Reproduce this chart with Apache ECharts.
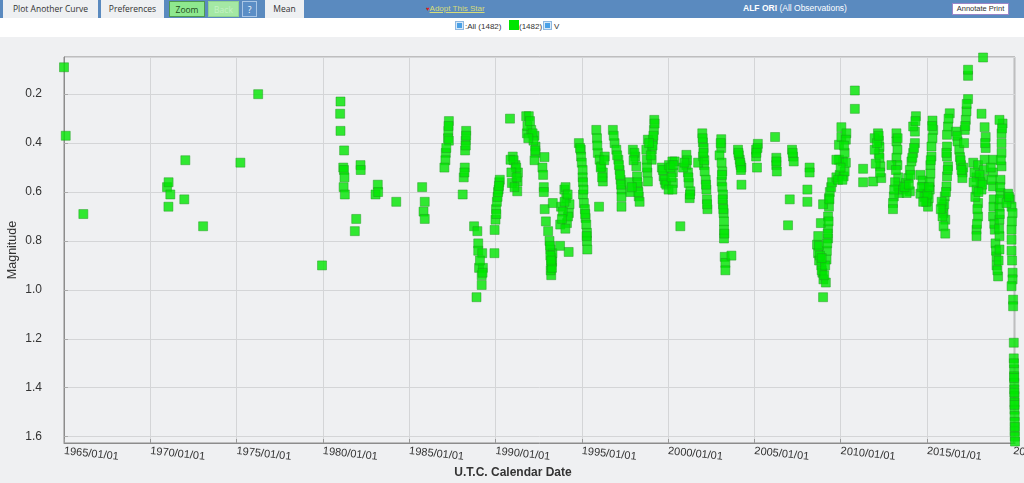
<!DOCTYPE html>
<html><head><meta charset="utf-8">
<script src="https://cdn.jsdelivr.net/npm/echarts@6/dist/echarts.min.js"></script>
<style>
html,body{margin:0;padding:0;width:1024px;height:483px;overflow:hidden;background:#eff0f2;font-family:'Liberation Sans',Arial,sans-serif;}
#bar{position:absolute;left:0;top:0;width:1024px;height:18px;background:#5a8abf;}
#row2{position:absolute;left:0;top:18px;width:1024px;height:19px;background:#ffffff;}
.tab{position:absolute;top:0;height:18px;line-height:18px;font-family:'Open Sans',sans-serif;font-size:8.5px;color:#333;background:#eef0f2;text-align:center;box-sizing:border-box;}
.btn{position:absolute;top:1px;height:16px;line-height:15px;font-family:'Open Sans',sans-serif;font-size:8.5px;text-align:center;box-sizing:border-box;}
#chart{position:absolute;left:0;top:37px;width:1024px;height:446px;}
.lg{position:absolute;top:22px;font-size:8px;color:#333;line-height:10px;}
.cb{position:absolute;top:21px;width:9px;height:9px;box-sizing:border-box;border:1px solid #8fb8e0;background:#4aa0e6;box-shadow:inset 0 0 0 1px #d6e8f8;}
</style></head>
<body>
<div id="bar"></div>
<div class="tab" style="left:3px;width:95px;">Plot Another Curve</div>
<div class="tab" style="left:101px;width:63px;">Preferences</div>
<div class="btn" style="left:169px;width:36px;background:#8ee88e;border:1px solid #4f9a4f;color:#1d4d1d;">Zoom</div>
<div class="btn" style="left:208px;width:31px;background:#a4e8a4;border:1px solid #90d490;color:#c4f2c4;">Back</div>
<div class="btn" style="left:242px;width:15px;background:#5b8ec6;border:1px solid #a9c6e6;color:#ffffff;">?</div>
<div class="tab" style="left:265px;width:39px;">Mean</div>
<div style="position:absolute;left:426px;top:4px;font-size:8px;line-height:10px;"><span style="color:#d62020;font-size:6px;">&#9829;</span><span style="color:#d8dc78;text-decoration:underline;">Adopt This Star</span></div>
<div style="position:absolute;left:700px;width:190px;top:3px;text-align:center;font-size:8.5px;line-height:11px;color:#ffffff;"><b>ALF ORI</b> (All Observations)</div>
<div style="position:absolute;left:952px;top:3px;width:57px;height:12px;line-height:10px;box-sizing:border-box;border:1px solid #9b86c8;background:#ffffff;font-size:7.5px;color:#333;text-align:center;">Annotate Print</div>
<div id="row2"></div>
<div class="cb" style="left:455px;"></div>
<div class="lg" style="left:465px;">:All (1482)</div>
<div style="position:absolute;left:509px;top:20px;width:10px;height:10px;background:#00e600;"></div>
<div class="lg" style="left:519px;">(1482)</div>
<div class="cb" style="left:543px;"></div>
<div class="lg" style="left:554px;">V</div>
<div id="chart"></div>
<script>
// Observations: [decimal year, V magnitude]
const obsEarly = [[1965.0,0.09],[1965.1,0.37],[1966.12,0.69],[1970.97,0.58],[1971.06,0.56],[1971.16,0.61],[1971.05,0.66],[1972.03,0.47],[1971.97,0.63],[1973.06,0.74],[1975.22,0.48],[1976.25,0.20],[1979.95,0.90]];
const obs1980s = [[1981.02,0.23],[1981.0,0.28],[1981.02,0.35],[1981.23,0.43],[1981.18,0.50],[1981.22,0.51],[1981.25,0.54],[1981.2,0.58],[1981.27,0.61],[1981.93,0.71],[1981.85,0.76],[1982.18,0.49],[1982.19,0.51],[1983.18,0.57],[1983.05,0.61],[1983.2,0.60],[1984.25,0.64],[1985.75,0.58],[1985.9,0.64],[1985.83,0.68],[1985.9,0.71],
[1987.3,0.31],[1987.27,0.35],[1987.25,0.38],[1987.3,0.39],[1987.12,0.44],[1987.1,0.47],[1987.04,0.50],[1987.28,0.33],[1987.15,0.42],
[1988.3,0.35],[1988.27,0.39],[1988.24,0.43],[1988.22,0.50],[1988.16,0.54],[1988.1,0.61],[1988.3,0.37],[1988.28,0.41],[1988.2,0.52],
[1988.76,0.74],[1988.95,0.76],[1989.0,0.81],[1989.0,0.84],[1989.23,0.85],[1989.05,0.91],[1989.27,0.91],[1989.2,0.94],[1989.2,0.98],[1988.9,1.03],[1989.1,0.88],[1989.25,0.93],[1989.94,0.85]];
const obs1990s = [[1989.95,0.755],[1990.0,0.713],[1990.03,0.67],[1990.08,0.64],[1990.12,0.62],[1990.18,0.59],[1990.22,0.56],[1990.25,0.55],[1990.05,0.69],[1990.15,0.60],[1990.2,0.575],[1990.84,0.30],
[1991.0,0.455],[1991.16,0.49],[1991.3,0.52],[1991.28,0.557],[1991.26,0.597],[1990.95,0.563],[1990.87,0.468],[1991.05,0.47],[1991.2,0.50],[1991.1,0.58],[1990.92,0.52],[1991.22,0.54],
[1991.78,0.29],[1991.93,0.29],[1991.82,0.36],[1992.07,0.346],[1992.26,0.37],[1992.32,0.414],[1992.32,0.44],[1992.26,0.47],[1991.85,0.33],[1992.0,0.31],[1992.15,0.36],[1992.2,0.39],[1992.3,0.43],[1991.9,0.38],
[1992.84,0.457],[1992.72,0.50],[1992.76,0.53],[1992.8,0.58],[1992.8,0.60],[1992.85,0.67],[1992.92,0.72],[1993.05,0.76],[1993.13,0.80],[1993.19,0.835],[1993.25,0.87],[1993.23,0.90],[1993.23,0.94],[1993.2,0.92],[1993.28,0.885],[1993.3,0.85],[1993.16,0.82],[1993.74,0.82],[1994.24,0.845],[1993.18,0.86],[1993.27,0.91],[1993.22,0.88],
[1993.99,0.59],[1994.1,0.625],[1994.29,0.65],[1994.25,0.686],[1994.14,0.727],[1993.75,0.733],[1993.8,0.66],[1993.32,0.645],[1994.06,0.58],[1994.2,0.70],[1994.0,0.64],[1993.9,0.68],[1994.18,0.61],[1994.05,0.75],[1993.85,0.71],
[1994.83,0.40],[1994.94,0.427],[1994.96,0.455],[1995.0,0.48],[1995.05,0.51],[1995.05,0.54],[1995.07,0.56],[1995.07,0.61],[1995.12,0.645],[1995.18,0.67],[1995.22,0.706],[1995.26,0.733],[1995.3,0.767],[1995.3,0.80],[1995.32,0.835],[1995.28,0.78],[1995.2,0.69],[1995.1,0.59],[1994.9,0.42],
[1995.84,0.346],[1995.88,0.38],[1995.93,0.44],[1996.03,0.468],[1996.13,0.495],[1996.22,0.52],[1996.22,0.557],[1996.0,0.66],[1996.33,0.455],[1995.9,0.41],[1996.1,0.50],[1996.3,0.47],[1996.18,0.54],
[1996.8,0.346],[1996.9,0.40],[1997.0,0.427],[1997.12,0.468],[1997.19,0.51],[1997.25,0.55],[1997.3,0.59],[1997.3,0.66],[1996.85,0.37],[1997.05,0.45],[1997.15,0.49],[1997.22,0.53],[1997.28,0.57],[1997.3,0.62],
[1997.96,0.427],[1998.1,0.455],[1998.16,0.495],[1998.2,0.536],[1998.25,0.577],[1998.3,0.618],[1998.35,0.64],[1997.82,0.60],[1997.76,0.56],[1998.05,0.44],[1998.22,0.56],[1998.28,0.60],[1997.9,0.58],[1998.0,0.47],
[1999.2,0.305],[1999.18,0.346],[1999.12,0.386],[1999.06,0.427],[1999.05,0.468],[1998.83,0.386],[1998.74,0.427],[1998.77,0.468],[1998.8,0.52],[1998.83,0.557],[1999.22,0.32],[1999.15,0.37],[1999.1,0.41],[1999.0,0.45],[1998.78,0.50],[1998.9,0.40],
[1999.64,0.50],[1999.74,0.536],[1999.84,0.563],[1999.7,0.51],[1999.8,0.55],[1999.9,0.57]];
const obs2000s = [[2000.03,0.59],[2000.05,0.49],[2000.25,0.475],[2000.38,0.475],[2000.28,0.52],[2000.28,0.563],[2000.25,0.59],[2000.15,0.50],[2000.2,0.54],[2000.3,0.49],[2000.71,0.74],
[2001.06,0.448],[2001.06,0.49],[2001.15,0.52],[2001.2,0.563],[2001.29,0.597],[2001.25,0.625],[2000.87,0.50],[2001.1,0.47],[2001.18,0.54],[2001.27,0.61],[2000.95,0.48],
[2001.98,0.36],[2002.02,0.397],[2002.06,0.42],[2002.02,0.455],[2002.08,0.49],[2002.12,0.516],[2002.18,0.55],[2002.22,0.59],[2002.25,0.63],[2002.28,0.67],[2001.74,0.48],[2002.0,0.38],[2002.1,0.47],[2002.2,0.57],[2002.26,0.65],[2002.05,0.44],
[2003.08,0.384],[2003.08,0.42],[2002.98,0.45],[2003.1,0.48],[2003.14,0.516],[2003.1,0.557],[2003.14,0.58],[2003.18,0.61],[2003.18,0.65],[2003.22,0.686],[2003.24,0.72],[2003.24,0.754],[2003.24,0.79],[2003.28,0.865],[2003.32,0.89],[2003.32,0.92],[2003.67,0.86],[2003.05,0.40],[2003.16,0.63],[2003.2,0.67],[2003.26,0.77],[2003.12,0.53],
[2004.05,0.427],[2004.1,0.45],[2004.15,0.468],[2004.2,0.49],[2004.25,0.50],[2004.25,0.57],[2004.08,0.44],[2004.18,0.48],[2004.22,0.51],
[2005.2,0.403],[2005.1,0.427],[2005.1,0.455],[2005.15,0.50],[2005.18,0.42],[2005.12,0.44],
[2006.2,0.375],[2006.27,0.46],[2006.27,0.49],[2006.3,0.516],[2006.28,0.475],[2006.95,0.736],
[2007.05,0.63],[2007.18,0.427],[2007.24,0.455],[2007.28,0.475],[2007.22,0.44],
[2008.2,0.50],[2008.2,0.52],[2008.07,0.59],[2008.07,0.64],
[2008.63,0.815],[2008.69,0.85],[2008.75,0.88],[2008.88,0.90],[2008.94,0.93],[2009.0,0.957],[2009.14,0.97],[2008.98,1.03],[2009.18,0.876],[2009.2,0.84],[2009.27,0.79],[2009.27,0.75],[2009.27,0.70],[2009.32,0.66],[2009.32,0.625],[2009.37,0.60],[2008.98,0.65],[2008.85,0.727],[2008.74,0.82],[2008.8,0.86],[2008.9,0.92],[2009.05,0.94],[2009.1,0.90],[2009.22,0.81],[2009.25,0.77],[2009.3,0.72],[2009.35,0.63],[2008.7,0.78],[2008.9,0.87],[2009.45,0.58],[2009.5,0.56]];
const obs2010s = [[2009.75,0.54],[2009.94,0.53],[2010.17,0.536],[2010.23,0.516],[2010.13,0.475],[2009.9,0.468],[2009.9,0.407],[2010.04,0.375],[2010.04,0.335],[2010.33,0.36],[2010.3,0.386],[2010.23,0.44],[2010.3,0.48],[2009.75,0.468],[2009.85,0.55],[2010.1,0.55],[2010.0,0.50],[2010.2,0.41],
[2010.82,0.185],[2010.82,0.26],[2011.3,0.505],[2011.3,0.56],[2011.88,0.557],
[2012.16,0.36],[2012.21,0.39],[2012.25,0.416],[2012.21,0.444],[2012.25,0.46],[2012.3,0.495],[2012.03,0.484],[2011.97,0.427],[2011.97,0.38],[2012.35,0.543],[2012.1,0.40],[2012.28,0.52],[2012.2,0.37],
[2013.23,0.36],[2013.23,0.393],[2013.29,0.427],[2013.23,0.46],[2013.29,0.49],[2013.33,0.54],[2013.33,0.577],[2013.39,0.604],[2013.08,0.618],[2013.03,0.645],[2013.03,0.67],[2012.94,0.49],[2013.2,0.51],[2013.15,0.56],[2013.1,0.59],[2013.3,0.38],
[2013.62,0.59],[2013.78,0.563],[2013.91,0.543],[2014.01,0.51],[2014.1,0.475],[2014.2,0.44],[2014.3,0.40],[2014.3,0.353],[2014.36,0.29],[2014.2,0.332],[2014.01,0.597],[2013.82,0.604],[2013.7,0.58],[2013.95,0.57],[2014.15,0.46],[2014.25,0.42],[2014.33,0.31],[2014.05,0.53],
[2014.62,0.53],[2014.74,0.553],[2014.82,0.58],[2014.92,0.607],[2015.0,0.638],[2015.06,0.66],[2014.62,0.607],[2015.32,0.308],[2015.36,0.346],[2015.32,0.38],[2015.26,0.414],[2015.26,0.455],[2015.2,0.49],[2015.2,0.525],[2015.16,0.56],[2015.16,0.59],[2015.1,0.625],[2014.7,0.58],[2014.85,0.62],[2014.95,0.64],[2015.03,0.61],[2015.12,0.58],[2015.3,0.33],[2015.22,0.47],[2014.78,0.64],
[2015.96,0.686],[2016.06,0.713],[2015.96,0.74],[2016.06,0.77],[2015.93,0.66],[2016.03,0.618],[2016.13,0.577],[2016.16,0.536],[2016.22,0.495],[2016.16,0.455],[2016.16,0.414],[2016.16,0.366],[2016.22,0.332],[2016.32,0.278],[2015.9,0.70],[2016.0,0.65],[2016.1,0.60],[2016.2,0.51],[2016.25,0.30],[2016.12,0.44],[2015.85,0.64],[2015.8,0.67],
[2016.68,0.353],[2016.77,0.393],[2016.87,0.427],[2016.91,0.457],[2016.97,0.49],[2017.06,0.52],[2017.05,0.543],[2017.19,0.346],[2017.25,0.305],[2017.29,0.27],[2017.38,0.22],[2017.38,0.125],[2017.38,0.10],[2016.75,0.37],[2016.95,0.47],[2017.1,0.50],[2017.15,0.40],[2017.22,0.33],[2017.0,0.51],[2017.3,0.24],
[2017.87,0.54],[2017.87,0.59],[2017.96,0.645],[2017.96,0.70],[2017.87,0.754],[2017.87,0.78],[2017.68,0.48],[2017.96,0.49],[2018.16,0.28],[2018.25,0.05],[2018.16,0.59],[2018.25,0.55],[2018.3,0.51],[2018.34,0.468],[2018.4,0.42],[2018.4,0.375],[2018.34,0.335],[2017.8,0.62],[2017.92,0.67],[2017.9,0.73],[2017.75,0.52],[2018.05,0.53],[2018.1,0.56],[2018.2,0.57],[2018.37,0.40],[2017.7,0.56],[2017.98,0.60],
[2018.83,0.468],[2018.83,0.52],[2018.83,0.577],[2018.87,0.63],[2018.83,0.70],[2018.93,0.754],[2018.97,0.81],[2019.03,0.863],[2019.03,0.90],[2019.12,0.945],[2018.7,0.50],[2018.75,0.55],[2018.85,0.66],[2018.9,0.73],[2019.0,0.84],[2019.08,0.92],[2019.2,0.835],[2019.2,0.78],[2019.2,0.713],[2019.2,0.66],[2019.26,0.604],[2019.26,0.55],[2019.32,0.495],[2019.32,0.44],[2019.32,0.40],[2019.32,0.36],[2019.38,0.32],[2019.2,0.305],[2019.15,0.88],[2019.18,0.75],[2019.23,0.63],[2019.28,0.47],[2019.35,0.34],[2019.24,0.58],[2019.22,0.69],
[2019.7,0.607],[2019.8,0.63],[2019.9,0.66],[2019.96,0.686],[2019.9,0.754],[2019.9,0.795],[2019.9,0.84],[2019.96,0.93],[2019.96,0.957],[2019.99,1.04],[2019.99,1.067],[2019.61,0.645],[2019.9,0.985],[2019.75,0.62],[2019.92,0.72],[2019.93,0.88]];
const obs2020 = [[2020.03,1.216],[2020.03,1.28],[2020.05,1.325],[2020.05,1.353],[2020.06,1.38],[2020.06,1.407],[2020.07,1.434],[2020.07,1.46],[2020.07,1.49],[2020.08,1.516],[2020.08,1.578],[2020.09,1.60],[2020.1,1.62],[2020.04,1.30],[2020.06,1.42],[2020.08,1.54],[2020.09,1.56],[2020.07,1.47],[2020.05,1.36]];

const yearTicks = [1965,1970,1975,1980,1985,1990,1995,2000,2005,2010,2015,2020];
const allObs = [].concat(obsEarly, obs1980s, obs1990s, obs2000s, obs2010s, obs2020);

const chart = echarts.init(document.getElementById('chart'), null, {renderer:'canvas'});
chart.setOption({
  animation:false,
  textStyle:{fontFamily:'Liberation Sans, Arial, sans-serif'},
  grid:{left:64, right:9, top:20, bottom:40, show:true, borderColor:'#8c8c8c', borderWidth:1, backgroundColor:'transparent', containLabel:false, outerBoundsMode:'none'},
  xAxis:{
    type:'value', min:yearTicks[0], max:2020.1, interval:5,
    name:'U.T.C. Calendar Date', nameLocation:'middle', nameGap:24, nameMoveOverlap:false,
    nameTextStyle:{fontWeight:'bold', fontSize:12, color:'#333', padding:[0,53,0,0]},
    axisLine:{show:true, lineStyle:{color:'#8c8c8c'}},
    axisTick:{show:true, inside:true, length:4, lineStyle:{color:'#999'}},
    axisLabel:{rotate:-6, margin:8, fontSize:11, color:'#333', showMaxLabel:false, showMinLabel:true, hideOverlap:false,
      formatter:function(v){ return yearTicks.indexOf(Math.round(v))>=0 && Math.abs(v-Math.round(v))<1e-6 ? Math.round(v)+'/01/01' : ''; }},
    splitLine:{show:true, lineStyle:{color:'#d4d5d7'}}
  },
  yAxis:{
    type:'value', inverse:true, min:0.048, max:1.626, splitNumber:8,
    name:'Magnitude', nameLocation:'middle', nameGap:45, nameRotate:90, nameMoveOverlap:false,
    nameTextStyle:{fontSize:12.5, color:'#333'},
    axisLine:{show:true, lineStyle:{color:'#8c8c8c'}},
    axisTick:{show:true, inside:true, length:4, lineStyle:{color:'#aaa'}},
    axisLabel:{margin:22, fontSize:12, color:'#333', showMinLabel:false, showMaxLabel:false,
      formatter:function(v){ return Math.abs(v*5-Math.round(v*5))<1e-6 ? v.toFixed(1) : ''; }},
    splitLine:{show:true, lineStyle:{color:'#d4d5d7'}}
  },
  series:[{
    type:'scatter', name:'V', data:allObs, symbol:'rect', symbolSize:9, clip:false,
    itemStyle:{color:'#00e600', borderColor:'#1f9a1f', borderWidth:0.6}
  }]
});
</script>
</body></html>
